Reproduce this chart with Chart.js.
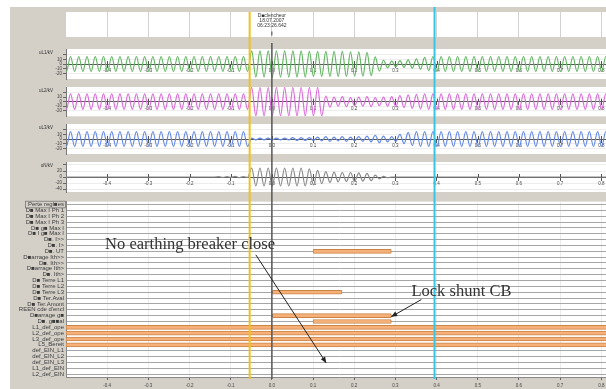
<!DOCTYPE html>
<html><head><meta charset="utf-8">
<script src="https://cdn.jsdelivr.net/npm/chart.js@4/dist/chart.umd.min.js"></script>
<style>
html,body{margin:0;padding:0;background:#fff;overflow:hidden;width:606px;height:389px;}
#wrap{position:absolute;left:0;top:0;width:606px;height:389px;overflow:hidden;}
#bg{position:absolute;left:10px;top:7px;width:600px;height:390px;background:#d4d0c8;}
canvas{position:absolute;left:10px;}
</style></head><body>
<div id="wrap">
<div id="bg"></div>
<canvas id="cH" width="602" height="36" style="top:7px"></canvas>
<canvas id="c1" width="602" height="40" style="top:43px"></canvas>
<canvas id="c2" width="602" height="37" style="top:83px"></canvas>
<canvas id="c3" width="602" height="38" style="top:120px"></canvas>
<canvas id="c4" width="602" height="38" style="top:158px"></canvas>
<canvas id="cD" width="602" height="193" style="top:196px"></canvas>
</div>
<script>
// ---------- data ----------
const xMin = -0.5, xMax = 0.826;
const xTickValues = [-0.4,-0.3,-0.2,-0.1,0.0,0.1,0.2,0.3,0.4,0.5,0.6,0.7,0.8];
const xTickLabels = ['-0.4','-0.3','-0.2','-0.1','0.0','0.1','0.2','0.3','0.4','0.5','0.6','0.7','0.8'];
const uTickValues = [20,10,0,-10,-20];
const uTickLabels = ['','10','0','-10','-20'];
const nTickValues = [40,20,0,-20,-40];
const nTickLabels = ['','20','0','-20','-40'];

// sampling of the 50 Hz records: one entry = peak amplitude of one cycle
const cycleStart = -0.514;
const cyclePeriod = 0.02;
const uL1Amp = [16,16,16,16,16,16,16,16,16,16,16,16,16,16,16,16,16,16,16,16,16,16,16,
  28,28,28,28,28,28,28,27,27,27,27,27,26,26,25,
  15,8,6,7,9,11,14,
  16,16,16,16,16,16,16,16,16,16,16,16,16,16,16,16,16,16,16,16,16,16];
const uL2Amp = [17,17,17,17,17,17,17,17,17,17,17,17,17,17,17,17,17,17,17,17,17,17,17,
  31,31,31,31,31,31,31,31,31,
  12,
  10,11,9,10,11,9,10,
  11,13,15,16,
  17,17,17,17,17,17,17,17,17,17,17,17,17,17,17,17,17,17,17,17,17,17,17];
const uL3Amp = [16,16,16,16,16,16,16,16,16,16,16,16,16,16,16,16,16,16,16,16,16,16,16,
  2,2,2,2,2,
  3,3,3,
  4,5,4,5,4,5,
  6,8,6,5,
  10,14,
  16,16,16,16,16,16,16,16,16,16,16,16,16,16,16,16,16,16,16,16,16,16,16,16];
const uNAmp = [0,0,0,0,0,0,0,0,0,0,0,0,0,0,0,0,0,0,0,1,1,2,1,
  30,30,30,30,30,30,30,
  27,22,18,
  16,15,15,14,
  12,6,2,
  0,0,0,0,0,0,0,0,0,0,0,0,0,0,0,0,0,0,0,0,0,0,0,0,0,0,0];

const waveTitles = ['uL1/kV','uL2/kV','uL3/kV','uN/kV'];
const waveColors = ['#62b562','#db6ddb','#6387e6','#8a8a8a'];

const digitalLabels = ['Perte regl\u25A0es','D\u25A0 Max I Ph 1','D\u25A0 Max I Ph 2','D\u25A0 Max I Ph 3',
 'D\u25A0 g\u25A0 Max I','D\u25A0 l g\u25A0 Max I','D\u25A0. I>>','D\u25A0. I>','D\u25A0. UT',
 'D\u25A0arrage Ith>>','D\u25A0. Ith>>','D\u25A0arrage Ith>','D\u25A0. Ith>',
 'D\u25A0 Terre L1','D\u25A0 Terre L2','D\u25A0 Terre L3','D\u25A0 Ter.Aval','D\u25A0 Ter.Amont',
 "REEN cde d'encl",'D\u25A0arrage g\u25A0','D\u25A0. g\u25A0\u25A0al',
 'L1_def_ope','L2_def_ope','L3_def_ope','L5_Bereit',
 'def_EIN_L1','def_EIN_L2','def_EIN_L3','L1_def_EIN','L2_def_EIN'];
const digitalBarRows = ['D\u25A0. UT','D\u25A0 Terre L3','D\u25A0arrage g\u25A0','D\u25A0. g\u25A0\u25A0al',
 'L1_def_ope','L2_def_ope','L3_def_ope','L5_Bereit'];
const digitalBarStart = [0.1, 0.0, 0.0, 0.1, -0.5, -0.5, -0.5, -0.5];
const digitalBarEnd   = [0.29, 0.17, 0.29, 0.29, 0.826, 0.826, 0.826, 0.826];

const markerTimes  = [-0.054, 0.0, 0.395];
const markerColors = ['#f0c21e', '#555555', '#37c5e6'];
const markerWidths = [2, 1.5, 2];

const headerLines = ['D\u25A0clencheur', '18.07.2007', '06:23:26.642'];
const headerTime = 0.0;

const noteTexts = ['No earthing breaker close', 'Lock shunt CB'];
const noteTime = [-0.405, 0.339];
const noteRow  = [7.54, 15.57];
const arrowFromTime = [-0.039, 0.363];
const arrowFromRow  = [8.6, 16.25];
const arrowToTime   = [0.132, 0.290];
const arrowToRow    = [27.1, 19.2];

// ---------- helpers ----------
const SANS = "'Liberation Sans', Arial, sans-serif";
Chart.defaults.font.family = SANS;

function buildPoints(amps){
  const pts = [];
  amps.forEach((a, c) => {
    const t0 = cycleStart + c * cyclePeriod;
    pts.push({x: t0 + cyclePeriod/4, y: a});
    pts.push({x: t0 + 3*cyclePeriod/4, y: -a});
  });
  return pts;
}

function drawMarkers(chart, which, top, bottom){
  const ctx = chart.ctx, xs = chart.scales.x;
  ctx.save();
  which.forEach(i => {
    const x = xs.getPixelForValue(markerTimes[i]);
    ctx.strokeStyle = markerColors[i];
    ctx.lineWidth = markerWidths[i];
    ctx.beginPath(); ctx.moveTo(x, top); ctx.lineTo(x, bottom); ctx.stroke();
  });
  ctx.restore();
}

const whiteArea = {
  id: 'whiteArea',
  beforeDraw(chart){
    const {ctx, chartArea: a} = chart;
    ctx.save(); ctx.fillStyle = '#ffffff';
    ctx.fillRect(a.left, a.top, a.right - a.left, a.bottom - a.top);
    ctx.restore();
  }
};

function xScaleCommon(){
  return {
    type: 'linear', min: xMin, max: xMax,
    afterBuildTicks: s => { s.ticks = xTickValues.map(v => ({value: v})); },
  };
}

// ---------- header ----------
new Chart(document.getElementById('cH'), {
  type: 'line',
  data: {datasets: [{data: []}]},
  options: {
    responsive: false, animation: false, events: [],
    layout: {padding: {left: 56, right: 0, top: 5, bottom: 6}},
    plugins: {legend: {display: false}, tooltip: {enabled: false}},
    scales: {
      x: Object.assign(xScaleCommon(), {
        position: 'bottom',
        afterFit: s => { s.height = 0; },
        ticks: {display: false},
        grid: {color: '#d2d2d2', drawTicks: false},
        border: {display: false}
      }),
      y: {display: false, min: 0, max: 1}
    }
  },
  plugins: [whiteArea, {
    id: 'hdr',
    afterDraw(chart){
      const ctx = chart.ctx, a = chart.chartArea;
      const x = chart.scales.x.getPixelForValue(headerTime);
      ctx.save();
      ctx.fillStyle = '#333'; ctx.font = '5px ' + SANS;
      ctx.textAlign = 'center'; ctx.textBaseline = 'middle';
      headerLines.forEach((t, i) => ctx.fillText(t, x, a.top + 3.2 + i * 5.2));
      ctx.strokeStyle = '#444'; ctx.lineWidth = 1;
      ctx.beginPath(); ctx.moveTo(x, a.top + 19.5); ctx.lineTo(x, a.top + 23.5); ctx.stroke();
      ctx.restore();
      drawMarkers(chart, [0], a.top, chart.height);
      drawMarkers(chart, [2], 0, chart.height);
    }
  }]
});

// ---------- waveform panels ----------
const panelIds = ['c1','c2','c3','c4'];
const panelAmps = [uL1Amp, uL2Amp, uL3Amp, uNAmp];
const panelPad = [[6,4],[4,3],[4,4],[4,4]];
panelIds.forEach((id, k) => {
  const isN = k === 3;
  const yMax = isN ? 50 : 32;
  const tv = isN ? nTickValues : uTickValues;
  const tl = isN ? nTickLabels : uTickLabels;
  new Chart(document.getElementById(id), {
    type: 'line',
    data: {datasets: [{
      data: buildPoints(panelAmps[k]),
      borderColor: waveColors[k], borderWidth: 1.2,
      pointRadius: 0, fill: false, cubicInterpolationMode: 'monotone'
    }]},
    options: {
      responsive: false, animation: false, events: [],
      layout: {padding: {left: 0, right: 0, top: panelPad[k][0], bottom: panelPad[k][1]}},
      plugins: {legend: {display: false}, tooltip: {enabled: false}},
      scales: {
        x: Object.assign(xScaleCommon(), {
          position: {y: 0},
          ticks: {callback: (v, i) => xTickLabels[i], font: {size: 4.5}, color: '#444',
                  padding: 1, maxRotation: 0, autoSkip: false},
          grid: {drawOnChartArea: false, drawTicks: true, tickLength: 3, color: '#555'},
          border: {color: '#555', width: 1}
        }),
        y: {
          min: -yMax, max: yMax,
          afterBuildTicks: s => { s.ticks = tv.map(v => ({value: v})); },
          afterFit: s => { s.width = 56; },
          ticks: {callback: (v, i) => tl[i], font: {size: 4.5}, color: '#444', padding: 1, autoSkip: false},
          grid: {color: '#ededed', tickLength: 3, tickColor: '#666'},
          border: {color: '#777'}
        }
      }
    },
    plugins: [whiteArea, {
      id: 'panelDeco',
      afterDatasetsDraw(chart){
        const ctx = chart.ctx, a = chart.chartArea, xs = chart.scales.x;
        const y0 = chart.scales.y.getPixelForValue(0);
        ctx.save();
        ctx.strokeStyle = '#555'; ctx.lineWidth = 1;
        xTickValues.forEach(v => {
          const x = Math.round(xs.getPixelForValue(v)) + 0.5;
          ctx.beginPath(); ctx.moveTo(x, y0 - 3); ctx.lineTo(x, y0); ctx.stroke();
        });
        ctx.restore();
        drawMarkers(chart, [0,1,2], 0, chart.height);
      },
      afterDraw(chart){
        const ctx = chart.ctx, a = chart.chartArea;
        ctx.save();
        ctx.fillStyle = '#333'; ctx.font = '4.5px ' + SANS;
        ctx.textAlign = 'right'; ctx.textBaseline = 'middle';
        ctx.fillText(waveTitles[k], a.left - 13, a.top + 3.5);
        ctx.restore();
      }
    }]
  });
});

// ---------- digital channels ----------
const barData = digitalLabels.map(l => {
  const i = digitalBarRows.indexOf(l);
  return i >= 0 ? [digitalBarStart[i], digitalBarEnd[i]] : null;
});

function arrow(ctx, x1, y1, x2, y2){
  ctx.beginPath(); ctx.moveTo(x1, y1); ctx.lineTo(x2, y2); ctx.stroke();
  const ang = Math.atan2(y2 - y1, x2 - x1), L = 6, W = 2.6;
  ctx.beginPath();
  ctx.moveTo(x2, y2);
  ctx.lineTo(x2 - L*Math.cos(ang) + W*Math.sin(ang), y2 - L*Math.sin(ang) - W*Math.cos(ang));
  ctx.lineTo(x2 - L*Math.cos(ang) - W*Math.sin(ang), y2 - L*Math.sin(ang) + W*Math.cos(ang));
  ctx.closePath(); ctx.fill();
}

new Chart(document.getElementById('cD'), {
  type: 'bar',
  data: {labels: digitalLabels, datasets: [{
    data: barData,
    backgroundColor: '#f7b077', borderColor: '#c98548', borderWidth: 1,
    barThickness: 4, borderSkipped: false, borderRadius: 1
  }]},
  options: {
    indexAxis: 'y',
    responsive: false, animation: false, events: [],
    layout: {padding: {left: 0, right: 0, top: 3, bottom: 0}},
    plugins: {legend: {display: false}, tooltip: {enabled: false}},
    scales: {
      x: Object.assign(xScaleCommon(), {
        position: 'bottom',
        afterFit: s => { s.height = 12; },
        ticks: {callback: (v, i) => xTickLabels[i], font: {size: 4.5}, color: '#444',
                padding: 3, maxRotation: 0, autoSkip: false},
        grid: {color: '#ececec', tickLength: 3, tickColor: '#666'},
        border: {color: '#888'}
      }),
      y: {
        type: 'category',
        afterFit: s => { s.width = 56; },
        ticks: {font: {size: 6}, color: '#3a3a3a', padding: 2, autoSkip: false},
        grid: {offset: false, color: '#a6a6a6', drawTicks: false},
        border: {color: '#888'}
      }
    }
  },
  plugins: [whiteArea, {
    id: 'digiDeco',
    afterDatasetsDraw(chart){
      drawMarkers(chart, [0,1,2], 0, chart.chartArea.bottom + 2);
    },
    afterDraw(chart){
      const ctx = chart.ctx, xs = chart.scales.x, ys = chart.scales.y, a = chart.chartArea;
      ctx.save();
      // selected first channel label box
      ctx.font = '6px ' + SANS;
      const w = ctx.measureText(digitalLabels[0]).width;
      const ry = ys.getPixelForValue(0);
      ctx.strokeStyle = '#777'; ctx.lineWidth = 0.8;
      ctx.strokeRect(a.left - 2 - w - 2.5, ry - 3.3, w + 4, 6.6);
      // annotations
      ctx.fillStyle = '#333';
      ctx.font = "16.5px 'Liberation Serif', 'Times New Roman', serif";
      ctx.textAlign = 'left'; ctx.textBaseline = 'alphabetic';
      noteTexts.forEach((t, i) => ctx.fillText(t, xs.getPixelForValue(noteTime[i]), ys.getPixelForValue(noteRow[i])));
      ctx.strokeStyle = '#222'; ctx.fillStyle = '#222'; ctx.lineWidth = 1;
      arrowFromTime.forEach((t, i) => arrow(ctx,
        xs.getPixelForValue(t), ys.getPixelForValue(arrowFromRow[i]),
        xs.getPixelForValue(arrowToTime[i]), ys.getPixelForValue(arrowToRow[i])));
      ctx.restore();
    }
  }]
});
</script>
</body></html>
